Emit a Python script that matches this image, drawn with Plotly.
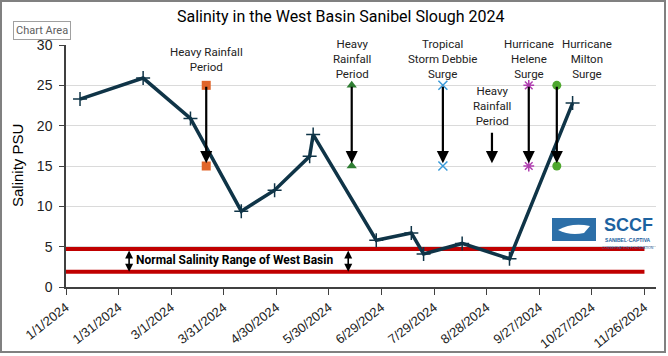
import plotly.graph_objects as go
from datetime import datetime, timedelta

# ---- data ----
dates = ["2024-01-09", "2024-02-14", "2024-03-12", "2024-04-10", "2024-04-29",
         "2024-05-19", "2024-05-21", "2024-06-26", "2024-07-16", "2024-07-23",
         "2024-08-14", "2024-09-10", "2024-10-16"]
salinity = [23.3, 25.9, 20.9, 9.4, 12.0, 16.2, 18.9, 5.8, 6.7, 4.1, 5.4, 3.5, 22.8]

event_dates = ["2024-03-21", "2024-06-12", "2024-08-03", "2024-08-31", "2024-09-21", "2024-10-07"]
event_label_dates = ["2024-03-21", "2024-06-12", "2024-08-03", "2024-08-31", "2024-09-21", "2024-10-24"]
event_labels = ["Heavy Rainfall<br>Period", "Heavy<br>Rainfall<br>Period",
                "Tropical<br>Storm Debbie<br>Surge", "Heavy<br>Rainfall<br>Period",
                "Hurricane<br>Helene<br>Surge", "Hurricane<br>Milton<br>Surge"]
event_from = [25, 25, 25, 19.3, 25, 25]
event_to = [15, 15, 15, 15, 15, 15]
event_label_y = [30.3, 31.2, 31.2, 25.4, 31.2, 31.2]
event_markers = ["square", "triangle-up", "x-thin-open", None, "asterisk-open", "circle"]
event_colors = ["#E0652A", "#2E7D32", "#3A9AD9", None, "#B040B0", "#4EA72E"]

normal_low = 1.9
normal_high = 4.7
range_start = "2024-01-01"
range_end = "2024-11-26"
y_max = 30

tick_dates = [datetime(2024, 1, 1) + timedelta(days=30 * i) for i in range(12)]
tick_text = [f"{d.month}/{d.day}/{d.year}" for d in tick_dates]

# ---- geometry helpers (pixel -> paper) ----
L, R, T, B = 66, 12, 45, 69
W, H = 668, 356
pw, ph = W - L - R, H - T - B
def px(x):
    return (x - L) / pw
def py(y):
    return (H - B - y) / ph

fig = go.Figure()

# normal range lines
for yv in [normal_high, normal_low]:
    fig.add_trace(go.Scatter(x=[range_start, range_end], y=[yv, yv], mode="lines",
                             line=dict(color="#C00000", width=4), hoverinfo="skip",
                             showlegend=False))

# main salinity line
fig.add_trace(go.Scatter(x=dates, y=salinity, mode="lines+markers",
                         line=dict(color="#0F3447", width=3.5),
                         marker=dict(symbol="cross-thin-open", size=10,
                                     line=dict(color="#8BA3BC", width=1.5)),
                         showlegend=False))

# event markers
for d, f, t, m, c in zip(event_dates, event_from, event_to, event_markers, event_colors):
    if m is None:
        continue
    open_sym = m.endswith("open")
    fig.add_trace(go.Scatter(x=[d, d], y=[f, t], mode="markers",
                             marker=dict(symbol=m, size=9, color=c,
                                         line=dict(color=c, width=1.5 if open_sym else 0)),
                             showlegend=False))

annotations = []
# event arrows and labels
for d, ld, f, t, lab, ly in zip(event_dates, event_label_dates, event_from, event_to,
                                event_labels, event_label_y):
    annotations.append(dict(x=d, y=t + 0.35, ax=d, ay=f, xref="x", yref="y", axref="x", ayref="y",
                            text="", showarrow=True, arrowhead=2, arrowsize=1.1,
                            arrowwidth=2.2, arrowcolor="#000000"))
    annotations.append(dict(x=ld, y=ly / y_max, xref="x", yref="paper", text=lab, showarrow=False,
                            yanchor="top", xanchor="center", align="center",
                            font=dict(family="Roboto", size=11.5, color="#222222")))

# normal range double arrows
for d in ["2024-02-06", "2024-06-10"]:
    annotations.append(dict(x=d, y=normal_low, ax=d, ay=normal_high, xref="x", yref="y",
                            axref="x", ayref="y", text="", showarrow=True,
                            arrowhead=2, arrowside="end+start", arrowsize=1,
                            arrowwidth=1.6, arrowcolor="#000000"))
annotations.append(dict(x="2024-02-09", y=(normal_low + normal_high) / 2, xref="x", yref="y",
                        text="<b>Normal Salinity Range of West Basin</b>", showarrow=False,
                        xanchor="left", yanchor="middle",
                        font=dict(family="Roboto", size=12, color="#000000")))

# y axis title
annotations.append(dict(x=px(17), y=py(166), xref="paper", yref="paper", text="Salinity PSU",
                        textangle=-90, showarrow=False, xanchor="center", yanchor="middle",
                        font=dict(family="Liberation Sans", size=15, color="#000000")))

# title
annotations.append(dict(x=px(341), y=py(17), xref="paper", yref="paper",
                        text="Salinity in the West Basin Sanibel Slough 2024",
                        showarrow=False, xanchor="center", yanchor="middle",
                        font=dict(family="Roboto", size=16, color="#000000")))

# "Chart Area" tooltip
annotations.append(dict(x=px(13), y=py(31), xref="paper", yref="paper", text="Chart Area",
                        showarrow=False, xanchor="left", yanchor="middle",
                        font=dict(family="Roboto", size=11, color="#606060"),
                        bgcolor="#FFFFFF", bordercolor="#A0A0A0", borderwidth=1, borderpad=2))

# logo
annotations.append(dict(x=px(628), y=py(225), xref="paper", yref="paper", text="<b>SCCF</b>",
                        showarrow=False, xanchor="center", yanchor="middle",
                        font=dict(family="Liberation Sans", size=18, color="#1C62A0")))
annotations.append(dict(x=px(628), y=py(236), xref="paper", yref="paper",
                        text="<b>SANIBEL·CAPTIVA</b><br><span style='font-size:3.5px'>CONSERVATION FOUNDATION</span>",
                        showarrow=False, xanchor="center", yanchor="top", borderpad=0,
                        font=dict(family="Liberation Sans", size=5, color="#1C62A0")))

shapes = [
    dict(type="rect", xref="paper", yref="paper", x0=px(552), x1=px(596), y0=py(241), y1=py(218),
         fillcolor="#2C6FA8", line=dict(width=0)),
    dict(type="path", xref="paper", yref="paper",
         path=f"M {px(558)},{py(230)} Q {px(572)},{py(222)} {px(590)},{py(226)} "
              f"L {px(584)},{py(233)} Q {px(570)},{py(236)} {px(558)},{py(230)} Z",
         fillcolor="#FFFFFF", line=dict(width=0)),
    dict(type="rect", xref="paper", yref="paper", x0=px(1), x1=px(665), y0=py(352), y1=py(1),
         line=dict(color="#808080", width=2), fillcolor="rgba(0,0,0,0)"),
]

fig.update_layout(
    width=W, height=H,
    margin=dict(l=L, r=R, t=T, b=B, autoexpand=False),
    paper_bgcolor="#FFFFFF", plot_bgcolor="#FFFFFF",
    showlegend=False,
    annotations=annotations,
    shapes=shapes,
    font=dict(family="Liberation Sans", size=13, color="#222222"),
    xaxis=dict(range=["2024-01-01", "2024-12-02 14:00"], tickmode="array",
               tickvals=tick_dates, ticktext=tick_text, tickangle=-38,
               ticks="outside", ticklen=6, tickcolor="#404040", showgrid=False,
               showline=True, linecolor="#404040", linewidth=1.5, zeroline=False,
               automargin=False,
               tickfont=dict(family="Liberation Sans", size=13, color="#222222")),
    yaxis=dict(range=[0, y_max], tickvals=[0, 5, 10, 15, 20, 25, 30], ticks="outside", ticklen=5,
               tickcolor="#404040", showgrid=True, gridcolor="#DADADA", gridwidth=1,
               showline=True, linecolor="#404040", linewidth=1.5, zeroline=False,
               ticklabelstandoff=4, automargin=False,
               tickfont=dict(family="Liberation Sans", size=14, color="#222222")),
)

fig.write_html("out.html", config={"displayModeBar": False},
               post_script="document.body.style.margin='0';document.body.style.overflow='hidden';")
